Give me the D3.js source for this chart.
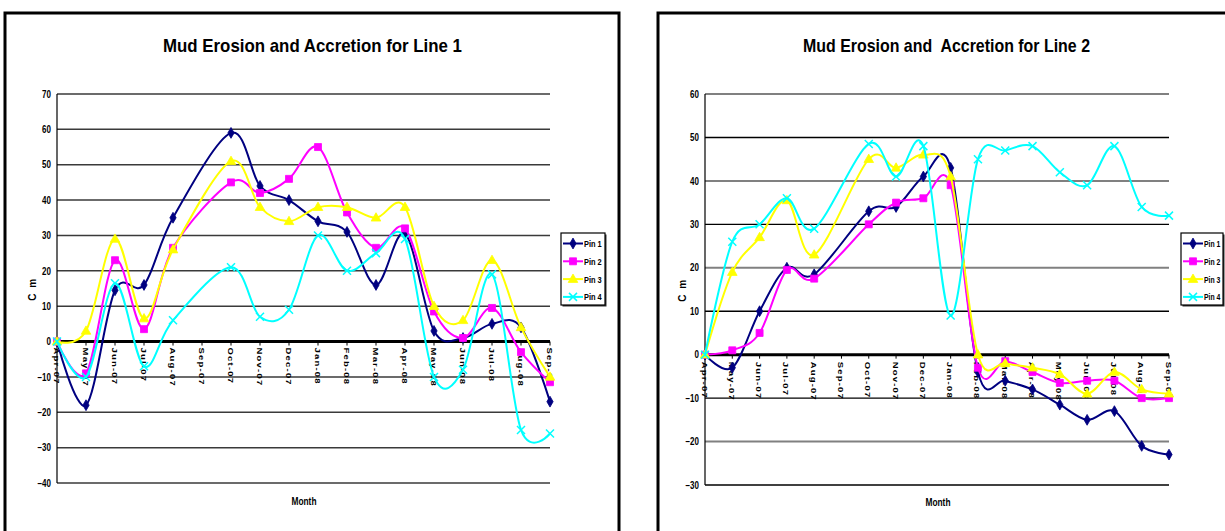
<!DOCTYPE html>
<html>
<head>
<meta charset="utf-8">
<script src="https://cdn.jsdelivr.net/npm/d3@7"></script>
<style>
  html, body { margin: 0; padding: 0; background: #fff; }
  svg { display: block; }
  text {
    font-family: "Liberation Sans", Arial, sans-serif;
    font-weight: bold;
    fill: #000;
  }
</style>
</head>
<body>
<svg id="chart" width="1225" height="531"></svg>
<script>
// Monthly survey dates (Sep-07 was not surveyed)
const months = ["Apr-07", "May-07", "Jun-07", "Jul-07", "Aug-07", "Sep-07", "Oct-07", "Nov-07", "Dec-07",
                "Jan-08", "Feb-08", "Mar-08", "Apr-08", "May-08", "Jun-08", "Jul-08", "Aug-08", "Sep-08"];
const pinNames = ["Pin 1", "Pin 2", "Pin 3", "Pin 4"];

// Line 1 readings (cm)
const line1Pin1 = [0, -18, 14.5, 16, 35, null, 59, 44, 40, 34, 31, 16, 30.5, 3, 1, 5, 4, -17];
const line1Pin2 = [0, -9, 23, 3.5, 26.5, null, 45, 42, 46, 55, 36.5, 26.5, 32, 8.5, 1, 9.5, -3, -11.5];
const line1Pin3 = [0, 3, 29, 6.5, 26, null, 51, 38, 34, 38, 38, 35, 38, 10, 6, 23, 4, -10];
const line1Pin4 = [0, -10, 16.5, -7, 6, null, 21, 7, 9, 30, 20, 25, 29, -10, -8, 19, -25, -26];
const line1Ticks = [70, 60, 50, 40, 30, 20, 10, 0, -10, -20, -30, -40];

// Line 2 readings (cm)
const line2Pin1 = [0, -3, 10, 20, 18.5, null, 33, 34, 41, 43, -4, -6, -8, -11.5, -15, -13, -21, -23];
const line2Pin2 = [0, 1, 5, 19.5, 17.5, null, 30, 35, 36, 39, -3, -1.5, -4, -6.5, -6, -6, -10, -10];
const line2Pin3 = [0, 19, 27, 35.5, 23, null, 45, 43, 46, 41, 0, -2, -3, -4.5, -9, -4, -8, -9];
const line2Pin4 = [0, 26, 30, 36, 29, null, 48.5, 41, 48, 9, 45, 47, 48, 42, 39, 48, 34, 32];
const line2Ticks = [60, 50, 40, 30, 20, 10, 0, -10, -20, -30];

// Series styling
const pinColors = ["#000080", "#FF00FF", "#FFFF00", "#00FFFF"];
const pinMarkers = ["diamond", "square", "triangle", "cross"];

const svg = d3.select("#chart");
const NARROW = 0.8; // horizontal squeeze for the condensed label face

function drawMarker(g, kind, color, cx, cy) {
  if (kind === "cross") {
    const r = 4;
    g.append("path")
      .attr("d", `M${cx - r},${cy - r}L${cx + r},${cy + r}M${cx - r},${cy + r}L${cx + r},${cy - r}`)
      .attr("stroke", color).attr("stroke-width", 1.5).attr("fill", "none");
    return;
  }
  const type = kind === "diamond" ? d3.symbolDiamond : kind === "square" ? d3.symbolSquare : d3.symbolTriangle;
  const size = kind === "diamond" ? 34 : kind === "square" ? 49 : 40;
  g.append("path")
    .attr("d", d3.symbol().type(type).size(size)())
    .attr("transform", `translate(${cx},${cy + (kind === "triangle" ? 0.5 : 0)})`)
    .attr("fill", color).attr("stroke", color).attr("stroke-width", 0.8);
}

function drawChart(cfg) {
  const g = svg.append("g");

  // outer frame
  g.append("rect")
    .attr("x", cfg.frame[0]).attr("y", cfg.frame[1])
    .attr("width", cfg.frame[2]).attr("height", cfg.frame[3])
    .attr("fill", "none").attr("stroke", "#000").attr("stroke-width", 3);

  // title
  g.append("text")
    .attr("x", cfg.titleX).attr("y", cfg.titleY)
    .attr("text-anchor", "middle")
    .style("font-size", "19px")
    .style("white-space", "pre")
    .attr("textLength", cfg.titleLen)
    .attr("lengthAdjust", "spacingAndGlyphs")
    .text(cfg.title);

  const x = d3.scalePoint().domain(months).range([cfg.left, cfg.right]);
  const y = d3.scaleLinear().domain([d3.min(cfg.ticks), d3.max(cfg.ticks)]).range([cfg.bottom, cfg.top]);

  // horizontal gridlines
  g.append("g").selectAll("line")
    .data(cfg.ticks.filter(t => t !== 0))
    .join("line")
    .attr("x1", cfg.left).attr("x2", cfg.right)
    .attr("y1", d => y(d)).attr("y2", d => y(d))
    .attr("stroke", d => cfg.gridColor(d))
    .attr("stroke-width", d => cfg.gridWidth(d));

  // value axis
  const yAxis = g.append("g")
    .attr("transform", `translate(${cfg.left},0)`)
    .call(d3.axisLeft(y).tickValues(cfg.ticks).tickSize(0).tickPadding(6).tickFormat(d3.format("d")));
  yAxis.select(".domain").remove();
  yAxis.selectAll("text")
    .style("font-size", "10px")
    .style("font-family", null)
    .attr("fill", "#000")
    .attr("x", -6 / NARROW)
    .attr("transform", `scale(${NARROW},1)`);
  g.append("line")
    .attr("x1", cfg.left).attr("x2", cfg.left)
    .attr("y1", y(d3.max(cfg.ticks))).attr("y2", y(d3.min(cfg.ticks)))
    .attr("stroke", "#000").attr("stroke-width", 1.2);

  // category axis along zero
  const y0 = y(0);
  g.append("g").selectAll("line")
    .data(months)
    .join("line")
    .attr("x1", d => x(d)).attr("x2", d => x(d))
    .attr("y1", y0).attr("y2", y0 + 4)
    .attr("stroke", "#000").attr("stroke-width", 1);
  g.append("line")
    .attr("x1", cfg.left).attr("x2", cfg.right)
    .attr("y1", y0).attr("y2", y0)
    .attr("stroke", "#000").attr("stroke-width", 3);

  g.append("g").selectAll("text")
    .data(months)
    .join("text")
    .attr("transform", d => `translate(${x(d) - 3.5},${y0 + cfg.labelGap}) rotate(90) scale(1,0.85)`)
    .style("font-size", "9.5px")
    .style("letter-spacing", "1.2px")
    .text(d => d);

  // axis titles
  g.append("text")
    .attr("transform", `translate(${cfg.yTitleX},${cfg.yTitleY}) rotate(-90)`)
    .attr("text-anchor", "middle")
    .style("font-size", "10px")
    .style("letter-spacing", "1.5px")
    .text("C m");
  g.append("text")
    .attr("x", cfg.xTitleX).attr("y", cfg.xTitleY)
    .attr("text-anchor", "middle")
    .style("font-size", "10px")
    .attr("textLength", 25)
    .attr("lengthAdjust", "spacingAndGlyphs")
    .text("Month");

  // series, drawn in order so later pins sit on top
  const line = d3.line()
    .x(d => x(d.m)).y(d => y(d.v))
    .curve(d3.curveCatmullRom.alpha(0));
  cfg.series.forEach((vals, i) => {
    const pts = months.map((m, k) => ({ m, v: vals[k] })).filter(d => d.v !== null);
    const sg = g.append("g");
    sg.append("path")
      .attr("d", line(pts))
      .attr("fill", "none")
      .attr("stroke", pinColors[i])
      .attr("stroke-width", 2);
    pts.forEach(d => drawMarker(sg, pinMarkers[i], pinColors[i], x(d.m), y(d.v)));
  });

  // legend
  const lg = g.append("g");
  lg.append("rect")
    .attr("x", cfg.legendX + 1.5).attr("y", cfg.legendY + 1.5)
    .attr("width", cfg.legendW).attr("height", 72)
    .attr("fill", "#333");
  lg.append("rect")
    .attr("x", cfg.legendX).attr("y", cfg.legendY)
    .attr("width", cfg.legendW).attr("height", 72)
    .attr("fill", "#fff").attr("stroke", "#000").attr("stroke-width", 1.2);
  pinNames.forEach((name, i) => {
    const cy = cfg.legendY + 10.5 + i * 17.8;
    lg.append("line")
      .attr("x1", cfg.legendX + 2).attr("x2", cfg.legendX + 22)
      .attr("y1", cy).attr("y2", cy)
      .attr("stroke", pinColors[i]).attr("stroke-width", 2);
    drawMarker(lg, pinMarkers[i], pinColors[i], cfg.legendX + 12, cy);
    lg.append("text")
      .attr("transform", `translate(${cfg.legendX + 23},${cy + 3.5}) scale(${cfg.legendSqueeze},1)`)
      .style("font-size", "9.5px")
      .text(name);
  });
}

drawChart({
  frame: [5, 13, 614, 540],
  title: "Mud Erosion and Accretion for Line 1",
  titleX: 312.5, titleY: 52, titleLen: 299,
  left: 57, right: 550, top: 94, bottom: 483,
  ticks: line1Ticks,
  gridColor: () => "#3a3a3a",
  gridWidth: () => 1.5,
  labelGap: 6,
  yTitleX: 36, yTitleY: 289,
  xTitleX: 304, xTitleY: 505,
  legendX: 561, legendY: 233, legendW: 44, legendSqueeze: 0.78,
  series: [line1Pin1, line1Pin2, line1Pin3, line1Pin4]
});

drawChart({
  frame: [658, 13, 600, 540],
  title: "Mud Erosion and  Accretion for Line 2",
  titleX: 946.5, titleY: 52, titleLen: 287,
  left: 705, right: 1169, top: 94, bottom: 485,
  ticks: line2Ticks,
  gridColor: d => (d % 20 === 0 ? "#808080" : "#000"),
  gridWidth: d => (d % 20 === 0 ? 2 : 1.4),
  labelGap: 7,
  yTitleX: 686, yTitleY: 290,
  xTitleX: 938, xTitleY: 506,
  legendX: 1181, legendY: 233, legendW: 42, legendSqueeze: 0.72,
  series: [line2Pin1, line2Pin2, line2Pin3, line2Pin4]
});
</script>
</body>
</html>
